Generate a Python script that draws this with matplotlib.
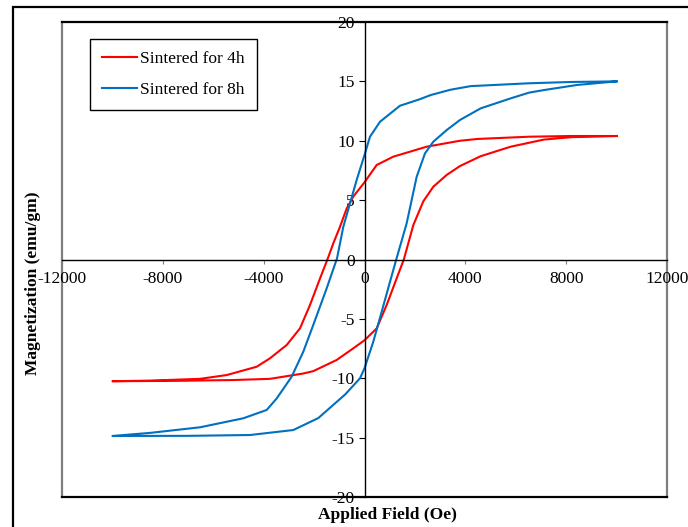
import numpy as np
import matplotlib
matplotlib.use('Agg')
import matplotlib.pyplot as plt
from matplotlib.patches import Rectangle

plt.rcParams['font.family'] = ['Liberation Serif', 'DejaVu Serif']
plt.rcParams['axes.unicode_minus'] = False

# sintered for 4h: descending branch (+10000 -> -10000), then ascending branch
h4_down = [10000, 8200, 6525, 4480, 3788, 2467, 1143, 484, 0, -444, -706, -972,
           -1238, -1436, -1765, -2162, -2559, -3087, -3749, -4277, -5467, -6525,
           -8500, -10000]
m4_down = [10.4, 10.4, 10.34, 10.15, 10.0, 9.5, 8.66, 7.96, 6.5, 5.3, 4.3, 2.76,
           1.36, 0.2, -1.6, -3.83, -5.8, -7.2, -8.32, -9.03, -9.73, -10.05,
           -10.2, -10.25]
h4_up = [-10000, -7500, -5200, -3749, -3220, -2427, -2030, -1103, -444, 0, 484,
         880, 1277, 1560, 1937, 2333, 2730, 3260, 3788, 4610, 5800, 7120, 8200,
         10000]
m4_up = [-10.25, -10.22, -10.15, -10.05, -9.87, -9.6, -9.4, -8.46, -7.48, -6.8, -5.8,
         -3.83, -1.58, 0.0, 2.9, 4.9, 6.13, 7.12, 7.87, 8.7, 9.5, 10.1, 10.3,
         10.4]

# sintered for 8h
h8_down = [10000, 8200, 6525, 4213, 3420, 2626, 2200, 1408, 615, 218, 0, -310,
           -575, -840, -1090, -1500, -2030, -2427, -2890, -3483, -3880, -4806,
           -6525, -8500, -10000]
m8_down = [15.0, 14.95, 14.84, 14.6, 14.3, 13.85, 13.5, 12.95, 11.6, 10.34, 8.8, 6.7,
           4.73, 2.76, 0.1, -2.43, -5.5, -7.76, -9.87, -11.7, -12.67, -13.37,
           -14.13, -14.6, -14.86]
h8_up = [-10000, -7000, -4542, -2824, -1830, -760, -178, 0, 349, 682, 1012, 1260,
         1673, 2070, 2400, 2730, 3260, 3788, 4610, 5800, 6525, 7120, 8440, 10000]
m8_up = [-14.86, -14.85, -14.78, -14.36, -13.35, -11.35, -10.0, -9.16, -6.92, -4.4,
         -1.87, 0.0, 3.05, 6.97, 8.94, 9.92, 10.9, 11.75, 12.73, 13.57, 14.05,
         14.27, 14.7, 15.0]

x_ticks = [-12000, -8000, -4000, 0, 4000, 8000, 12000]
y_ticks = [-20, -15, -10, -5, 0, 5, 10, 15, 20]

W, H = 688, 527
fig = plt.figure(figsize=(W / 100, H / 100), dpi=100)
pos = [62 / W, 30 / H, 605 / W, 475 / H]

# plot area frame
bg = fig.add_axes(pos)
bg.set_xticks([])
bg.set_yticks([])
for s in ['top', 'bottom']:
    bg.spines[s].set_color('black')
    bg.spines[s].set_linewidth(1.6)
for s in ['left', 'right']:
    bg.spines[s].set_color('#7f7f7f')
    bg.spines[s].set_linewidth(1.6)

ax = fig.add_axes(pos, facecolor='none')
ax.plot(h4_down + h4_up, m4_down + m4_up, color='#ff0000', lw=1.5,
        label='Sintered for 4h')
ax.plot(h8_down + h8_up, m8_down + m8_up, color='#0070c0', lw=1.5,
        label='Sintered for 8h')

ax.set_xlim(-12000, 12000)
ax.set_ylim(-20, 20)
ax.set_xticks(x_ticks)
ax.set_yticks(y_ticks)
ax.spines['left'].set_position(('data', 0))
ax.spines['bottom'].set_position(('data', 0))
ax.spines['top'].set_visible(False)
ax.spines['right'].set_visible(False)
for s in ['left', 'bottom']:
    ax.spines[s].set_linewidth(1.0)
ax.tick_params(axis='x', direction='out', length=3, width=0.8, color='#808080',
               pad=5, labelsize=12.5)
ax.tick_params(axis='y', direction='out', length=4, width=0.8, pad=3,
               labelsize=12.5)

fig.text(387 / W, 1 - 515 / H, 'Applied Field (Oe)', ha='center', va='center',
         fontsize=12.5, fontweight='bold')
fig.text(33 / W, 1 - 283 / H, 'Magnetization (emu/gm)', ha='center', va='center',
         rotation=90, fontsize=12.5, fontweight='bold')

leg = ax.legend(loc='upper left', bbox_to_anchor=(90 / W, 1 - 39 / H),
                bbox_transform=fig.transFigure, borderaxespad=0, fancybox=False,
                edgecolor='black', framealpha=1, fontsize=12.5, handlelength=2.0,
                handletextpad=0.2, borderpad=0.7, labelspacing=0.85)
leg.get_frame().set_linewidth(1.0)

# outer border of the figure
fig.add_artist(Rectangle((13 / W, -0.1), 1.2, 0.1 + 1 - 7 / H, transform=fig.transFigure,
                         fill=False, ec='black', lw=1.6))

fig.savefig('out.png', dpi=100)
